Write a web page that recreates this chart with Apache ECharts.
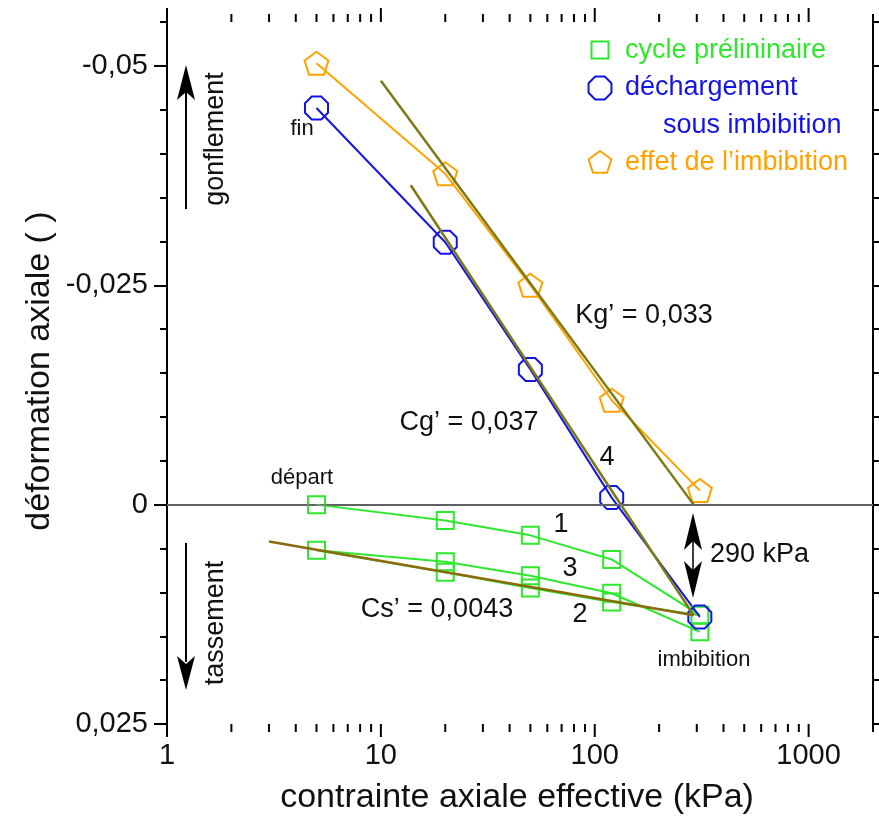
<!DOCTYPE html>
<html><head><meta charset="utf-8">
<script src="https://cdn.jsdelivr.net/npm/echarts@6/dist/echarts.min.js"></script>
<style>html,body{margin:0;padding:0;background:#fff}#c{width:879px;height:818px}</style>
</head><body><div id="c"></div>
<script>
const FONT = '"Liberation Sans", Arial, sans-serif';

// ---- data ----
const preliminaryStress = [5, 20, 50, 120, 310, 120, 50, 20, 5, 20, 50, 120, 310];
const preliminaryStrain = [0, 0.0018, 0.0035, 0.00625, 0.0126, 0.0111, 0.0095, 0.0077, 0.0052, 0.0065, 0.0081, 0.0101, 0.0145];
const unloadStress = [5, 20, 50, 120, 310];
const unloadStrain = [-0.0452, -0.0299, -0.0154, -0.0008, 0.0128];
const effectStress = [5, 20, 50, 120, 310];
const effectStrain = [-0.0503, -0.0377, -0.0250, -0.0119, -0.0016];
const fitKgStress = [10, 290];
const fitKgStrain = [-0.0483, 0];
const fitCgStress = [13.8, 290];
const fitCgStrain = [-0.0364, 0.0126];
const fitCsStress = [3, 290];
const fitCsStrain = [0.0042, 0.0126];
const yTickValues = [-0.05, -0.025, 0, 0.025];
const yMinorTickValues = [-0.055, -0.05, -0.045, -0.04, -0.035, -0.03, -0.025, -0.02, -0.015, -0.01, -0.005, 0, 0.005, 0.01, 0.015, 0.02, 0.025];
const xTickLabels = [1, 10, 100, 1000];
const xMinorTickValues = [2, 3, 4, 5, 6, 7, 8, 9, 20, 30, 40, 50, 60, 70, 80, 90, 200, 300, 400, 500, 600, 700, 800, 900, 2000];

const Y_MIN = -0.055, Y_MAX = 0.025, X_MIN = 1, X_MAX = 2000;
const GREEN = '#2ee82e', BLUE = '#1414e6', ORANGE = '#ffa200', OLIVE = '#7c7a14', BROWN = '#8a6a0c';

const zip = (a, b) => a.map((v, i) => [v, b[i]]);
const OCT = 'path://M7.03,0 L16.97,0 L24,7.03 L24,16.97 L16.97,24 L7.03,24 L0,16.97 L0,7.03 Z';
const PENT = 'path://M10,0 L19.51,6.91 L15.88,18.09 L4.12,18.09 L0.49,6.91 Z';

const tickData = xTickLabels.map(v => [v, 0, 1]).concat(xMinorTickValues.map(v => [v, 0, 0]));

function txt(text, x, y, size, opts) {
  opts = opts || {};
  return {
    type: 'text', x: x, y: y, rotation: opts.rot || 0, z: 100,
    style: {
      text: text, fill: opts.color || '#111', font: size + 'px ' + FONT,
      textAlign: opts.align || 'center', textVerticalAlign: 'middle'
    }
  };
}
function arrowHead(cx, tipY, dir, len, w, notch) {
  return {
    type: 'polygon', z: 100,
    shape: { points: [[cx, tipY], [cx + w / 2, tipY - dir * len], [cx, tipY - dir * (len - notch)], [cx - w / 2, tipY - dir * len]] },
    style: { fill: '#000' }
  };
}
function vline(x, y1, y2, w) {
  return { type: 'line', z: 100, shape: { x1: x, y1: y1, x2: x, y2: y2 }, style: { stroke: '#000', lineWidth: w } };
}
function polyPts(cx, cy, r, n, startDeg) {
  const pts = [];
  for (let i = 0; i < n; i++) {
    const a = (startDeg + i * 360 / n) * Math.PI / 180;
    pts.push([cx + r * Math.cos(a), cy + r * Math.sin(a)]);
  }
  return pts;
}

const chart = echarts.init(document.getElementById('c'));
const gridTop = 22, gridBottom = 94, gridLeft = 167, gridRight = 6;

const option = {
  animation: false,
  backgroundColor: '#fff',
  grid: { left: gridLeft, right: gridRight, top: gridTop, bottom: gridBottom, containLabel: false },
  xAxis: [{
    type: 'log', logBase: 10, min: X_MIN, max: X_MAX, position: 'bottom',
    axisLine: { show: true, lineStyle: { color: '#000', width: 2 } },
    axisTick: { show: false },
    splitLine: { show: false },
    axisLabel: {
      fontSize: 29, fontFamily: FONT, color: '#111', margin: 17,
      formatter: v => {
        const hit = xTickLabels.find(t => Math.abs(Math.log10(v) - Math.log10(t)) < 1e-6);
        return hit !== undefined ? String(hit) : '';
      }
    }
  }, {
    type: 'log', logBase: 10, min: X_MIN, max: X_MAX, position: 'top',
    axisLine: { show: true, lineStyle: { color: '#000', width: 2 } },
    axisTick: { show: false }, axisLabel: { show: false }, splitLine: { show: false }
  }],
  yAxis: [{
    type: 'value', min: Y_MIN, max: Y_MAX, inverse: true, position: 'left',
    axisLine: { show: true, lineStyle: { color: '#000', width: 2 } },
    axisTick: { show: true, customValues: yTickValues, length: 13, lineStyle: { color: '#000', width: 2 } },
    splitLine: { show: false },
    axisLabel: {
      customValues: yTickValues, fontSize: 29, fontFamily: FONT, color: '#111', margin: 19,
      formatter: v => (v === 0 ? '0' : String(v).replace('.', ','))
    }
  }, {
    type: 'value', min: Y_MIN, max: Y_MAX, inverse: true, position: 'left',
    axisLine: { show: false },
    axisTick: { show: true, customValues: yMinorTickValues, length: 7, lineStyle: { color: '#000', width: 2 } },
    axisLabel: { show: false }, splitLine: { show: false }
  }, {
    type: 'value', min: Y_MIN, max: Y_MAX, inverse: true, position: 'right',
    axisLine: { show: true, lineStyle: { color: '#000', width: 2 } },
    axisTick: { show: true, customValues: yMinorTickValues, length: 10, lineStyle: { color: '#000', width: 2 } },
    axisLabel: { show: false }, splitLine: { show: false }
  }],
  series: [
    {
      type: 'line', data: [], z: 1,
      markLine: {
        silent: true, symbol: 'none', label: { show: false },
        lineStyle: { color: '#808080', width: 1.5, type: 'solid' },
        data: [{ yAxis: 0 }]
      }
    },
    {
      type: 'custom', coordinateSystem: 'cartesian2d', data: tickData, encode: { x: 0, y: 1 }, silent: true, z: 5,
      renderItem: (params, api) => {
        const x = api.value(0), major = api.value(2);
        const b = api.coord([x, Y_MAX]);
        const t = api.coord([x, Y_MIN]);
        const lb = major ? 13 : 8, lt = major ? 14 : 8;
        return {
          type: 'group', children: [
            { type: 'line', shape: { x1: b[0], y1: b[1], x2: b[0], y2: b[1] + lb }, style: { stroke: '#000', lineWidth: 2 } },
            { type: 'line', shape: { x1: t[0], y1: t[1], x2: t[0], y2: t[1] - lt }, style: { stroke: '#000', lineWidth: 2 } }
          ]
        };
      }
    },
    {
      name: 'cycle prélininaire', type: 'line', data: zip(preliminaryStress, preliminaryStrain), z: 3,
      lineStyle: { color: GREEN, width: 2 }, symbol: 'rect', symbolSize: 17, showAllSymbol: true,
      itemStyle: { color: 'transparent', borderColor: GREEN, borderWidth: 2 }
    },
    {
      name: 'déchargement sous imbibition', type: 'line', data: zip(unloadStress, unloadStrain), z: 3,
      lineStyle: { color: BLUE, width: 2 }, symbol: OCT, symbolSize: 23,
      itemStyle: { color: 'transparent', borderColor: BLUE, borderWidth: 2 }
    },
    {
      name: "effet de l'imbibition", type: 'line', data: zip(effectStress, effectStrain), z: 3,
      lineStyle: { color: ORANGE, width: 2 }, symbol: PENT, symbolSize: [24, 23],
      itemStyle: { color: 'transparent', borderColor: ORANGE, borderWidth: 2 }
    },
    { type: 'line', data: zip(fitKgStress, fitKgStrain), symbol: 'none', z: 4, lineStyle: { color: OLIVE, width: 2.5 } },
    { type: 'line', data: zip(fitCgStress, fitCgStrain), symbol: 'none', z: 4, lineStyle: { color: OLIVE, width: 2.5 } },
    { type: 'line', data: zip(fitCsStress, fitCsStrain), symbol: 'none', z: 4, lineStyle: { color: BROWN, width: 2.5 } }
  ],
  graphic: [
    txt('déformation axiale ( )', 40, 371, 34, { rot: Math.PI / 2 }),
    txt('contrainte axiale effective (kPa)', 517, 798, 34),
    vline(186, 92, 209, 2), arrowHead(186, 65, -1, 35, 18, 8),
    txt('gonflement', 216, 139, 27, { rot: Math.PI / 2 }),
    vline(186, 543, 662, 2), arrowHead(186, 690, 1, 34, 18, 8),
    txt('tassement', 216, 623, 27, { rot: Math.PI / 2 }),
    vline(693, 535, 578, 1.5), arrowHead(693, 513, -1, 37, 18, 9), arrowHead(693, 598, 1, 37, 18, 9),
    txt('290 kPa', 710, 555, 27, { align: 'left' }),
    txt('fin', 302, 129, 22),
    txt('départ', 302, 478, 22),
    txt('imbibition', 704, 660, 22),
    txt('Kg’ = 0,033', 644, 316, 27),
    txt('Cg’ = 0,037', 469, 423, 27),
    txt('Cs’ = 0,0043', 437, 610, 27),
    txt('1', 561, 525, 27), txt('3', 570, 569, 27), txt('2', 580, 615, 27), txt('4', 607, 458, 27),
    { type: 'rect', z: 100, shape: { x: 591.5, y: 41.5, width: 17, height: 17 }, style: { fill: 'none', stroke: GREEN, lineWidth: 2 } },
    txt('cycle prélininaire', 625, 51, 27, { align: 'left', color: GREEN }),
    { type: 'polygon', z: 100, shape: { points: polyPts(600, 88, 12.4, 8, 22.5) }, style: { fill: 'none', stroke: BLUE, lineWidth: 2 } },
    txt('déchargement', 625, 88, 27, { align: 'left', color: BLUE }),
    txt('sous imbibition', 663, 126, 27, { align: 'left', color: BLUE }),
    { type: 'polygon', z: 100, shape: { points: polyPts(600, 163, 12, 5, -90) }, style: { fill: 'none', stroke: ORANGE, lineWidth: 2 } },
    txt('effet de l’imbibition', 625, 163, 27, { align: 'left', color: ORANGE })
  ]
};
chart.setOption(option);
</script></body></html>
